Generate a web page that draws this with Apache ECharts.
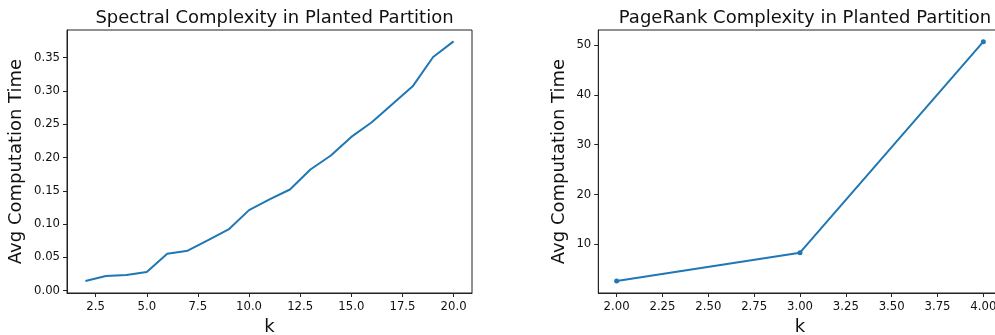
<!DOCTYPE html>
<html><head><meta charset="utf-8">
<script src="https://cdn.jsdelivr.net/npm/echarts@6/dist/echarts.min.js"></script>
<style>html,body{margin:0;padding:0;background:#fff;overflow:hidden}#c{width:995px;height:335px}</style>
</head><body><div id="c"></div>
<script>
// Left chart: Spectral
const spectralK = [2,3,4,5,6,7,8,9,10,11,12,13,14,15,16,17,18,19,20];
const spectralTime = [0.0145,0.022,0.0235,0.028,0.0556,0.060,0.076,0.092,0.121,0.137,0.152,0.182,0.203,0.231,0.253,0.280,0.307,0.351,0.3745];
const spectralXTicks = [2.5,5,7.5,10,12.5,15,17.5,20];
const spectralYTicks = [0,0.05,0.1,0.15,0.2,0.25,0.3,0.35];
// Right chart: PageRank
const pagerankK = [2,3,4];
const pagerankTime = [2.63,8.31,50.67];
const pagerankXTicks = [2,2.25,2.5,2.75,3,3.25,3.5,3.75,4];
const pagerankYTicks = [10,20,30,40,50];

const FONT = 'DejaVu Sans';
const BLUE = '#1f77b4';
function axisCommon(ticks, fmt, margin){
  return {
    axisLine:{show:true,onZero:false,lineStyle:{color:'#222',width:1}},
    axisTick:{show:true,inside:false,length:4,lineStyle:{color:'#222',width:1},customValues:ticks},
    axisLabel:{show:true,customValues:ticks,formatter:fmt,fontFamily:FONT,fontSize:11.7,color:'#111',margin:margin},
    splitLine:{show:false}
  };
}
const chart = echarts.init(document.getElementById('c'),null,{renderer:'canvas'});
chart.setOption({
  animation:false,
  title:[
    {text:'Spectral Complexity in Planted Partition',left:269.5,top:4,textAlign:'center',textStyle:{fontFamily:FONT,fontSize:18,fontWeight:'normal',color:'#111'}},
    {text:'PageRank Complexity in Planted Partition',left:800,top:4,textAlign:'center',textStyle:{fontFamily:FONT,fontSize:18,fontWeight:'normal',color:'#111'}}
  ],
  grid:[
    {left:67,top:30,width:405,height:263,show:true,borderColor:'#222',borderWidth:1,backgroundColor:'transparent',outerBoundsMode:'none',containLabel:false},
    {left:598.3,top:30,width:403.4,height:263,show:true,borderColor:'#222',borderWidth:1,backgroundColor:'transparent',outerBoundsMode:'none',containLabel:false}
  ],
  xAxis:[
    Object.assign({type:'value',gridIndex:0,min:1.1,max:20.9,name:'k',nameLocation:'middle',nameGap:24,
      nameTextStyle:{fontFamily:FONT,fontSize:18,color:'#111'}}, axisCommon(spectralXTicks,v=>v.toFixed(1),8)),
    Object.assign({type:'value',gridIndex:1,min:1.9,max:4.1,name:'k',nameLocation:'middle',nameGap:24,
      nameTextStyle:{fontFamily:FONT,fontSize:18,color:'#111'}}, axisCommon(pagerankXTicks,v=>v.toFixed(2),8))
  ],
  yAxis:[
    Object.assign({type:'value',gridIndex:0,min:-0.0035,max:0.3916,name:'Avg Computation Time',nameLocation:'middle',nameGap:42,
      nameTextStyle:{fontFamily:FONT,fontSize:18,color:'#111'}}, axisCommon(spectralYTicks,v=>v.toFixed(2),7)),
    Object.assign({type:'value',gridIndex:1,min:0.22,max:53.02,name:'Avg Computation Time',nameLocation:'middle',nameGap:30,
      nameTextStyle:{fontFamily:FONT,fontSize:18,color:'#111'}}, axisCommon(pagerankYTicks,v=>String(v),7))
  ],
  series:[
    {type:'line',xAxisIndex:0,yAxisIndex:0,data:spectralK.map((k,i)=>[k,spectralTime[i]]),showSymbol:false,symbol:'none',
      lineStyle:{color:BLUE,width:2},itemStyle:{color:BLUE},clip:false},
    {type:'line',xAxisIndex:1,yAxisIndex:1,data:pagerankK.map((k,i)=>[k,pagerankTime[i]]),symbol:'circle',symbolSize:5,showSymbol:true,
      lineStyle:{color:BLUE,width:2},itemStyle:{color:BLUE},clip:false}
  ]
});
</script></body></html>
